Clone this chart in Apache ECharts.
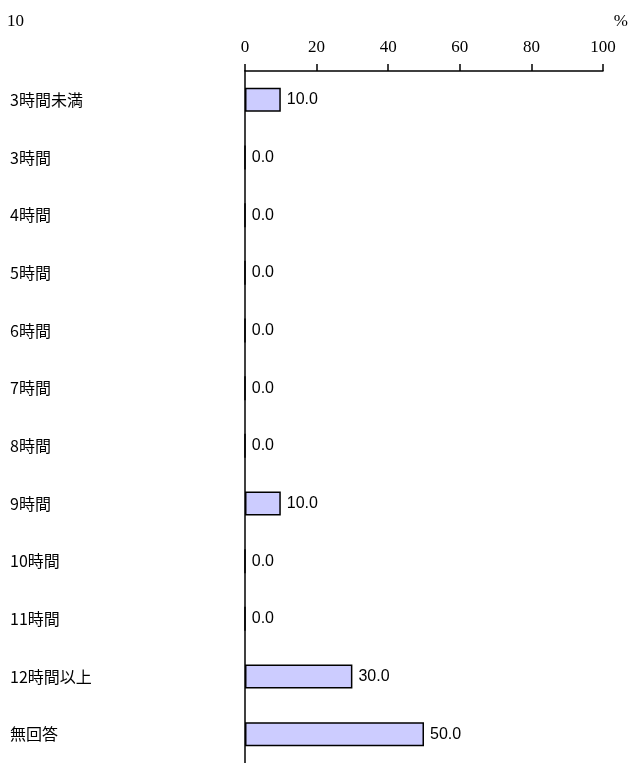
<!DOCTYPE html>
<html><head><meta charset="utf-8">
<script src="https://cdn.jsdelivr.net/npm/echarts@6/dist/echarts.min.js"></script>
<style>html,body{margin:0;padding:0;background:#fff}#c{width:630px;height:763px}</style>
</head><body><div id="c"></div>
<script>
const categories = ['3時間未満','3時間','4時間','5時間','6時間','7時間','8時間','9時間','10時間','11時間','12時間以上','無回答'];
const values = [10.0, 0.0, 0.0, 0.0, 0.0, 0.0, 0.0, 10.0, 0.0, 0.0, 30.0, 50.0];
const xTicks = [0, 20, 40, 60, 80, 100];
const cornerLeft = '10';
const unitLabel = '%';

const chart = echarts.init(document.getElementById('c'));
chart.setOption({
  animation: false,
  backgroundColor: '#fff',
  grid: {left: 245, right: 27, top: 71, height: 695, containLabel: false},
  xAxis: {
    type: 'value', position: 'top', min: 0, max: 100, interval: 20,
    axisLine: {show: true, lineStyle: {color: '#000', width: 1.5}},
    axisTick: {show: true, length: 7, lineStyle: {color: '#000', width: 1.5}},
    splitLine: {show: false},
    axisLabel: {margin: 15, color: '#000', fontFamily: 'Liberation Serif', fontSize: 17,
      formatter: v => xTicks.includes(v) ? String(v) : ''}
  },
  yAxis: {
    type: 'category', inverse: true, data: categories,
    axisLine: {show: true, lineStyle: {color: '#000', width: 1.5}},
    axisTick: {show: false},
    axisLabel: {margin: 235, align: 'left', color: '#000', fontFamily: 'Noto Sans CJK JP', fontSize: 16}
  },
  series: [{
    type: 'bar', data: values, barWidth: 24,
    itemStyle: {color: '#CCCCFF', borderColor: '#000', borderWidth: 1.5},
    label: {show: true, position: 'right', distance: 6, color: '#000', fontFamily: 'Liberation Sans', fontSize: 16,
      formatter: p => p.value.toFixed(1)}
  }],
  graphic: [
    {type: 'text', left: 7, top: 13, style: {text: cornerLeft, font: '17px "Liberation Serif"', fill: '#000'}},
    {type: 'text', right: 2, top: 13, style: {text: unitLabel, font: '17px "Liberation Serif"', fill: '#000'}}
  ]
});
</script></body></html>
